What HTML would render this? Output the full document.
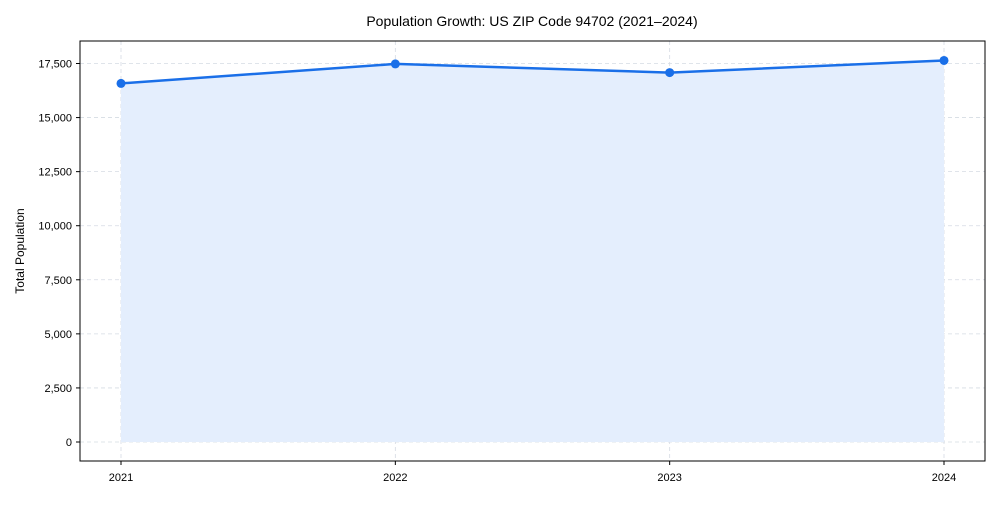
<!DOCTYPE html>
<html><head><meta charset="utf-8"><style>
body{margin:0;background:#fff;font-family:"Liberation Sans",Arial,sans-serif;}
svg text{font-family:"Liberation Sans",Arial,sans-serif;fill:#000}
</style></head><body>
<svg id="chart" width="1000" height="500">
<text x="532" y="26" font-size="14" text-anchor="middle">Population Growth: US ZIP Code 94702 (2021–2024)</text>
<g id="grid"></g>
<path id="area" fill="#e4eefd" stroke="none"></path>
<path id="line" fill="none" stroke="#1a6fe8" stroke-width="2.5"></path>
<g id="pts"></g>
<rect x="80" y="41" width="905" height="420" fill="none" stroke="#000" stroke-width="1"/>
<g id="axes"></g>
<text transform="translate(24,251) rotate(-90)" font-size="12" text-anchor="middle">Total Population</text>
</svg>
<script>
const years=["2021","2022","2023","2024"];
const population=[16580,17480,17080,17640];
const yTicks=[0,2500,5000,7500,10000,12500,15000,17500];
const ns="http://www.w3.org/2000/svg";
const x0=121,x1=944,yb=442,yt=63.5;
function xs(i){return x0+(x1-x0)*i/(years.length-1);}
function ys(v){return yb-(yb-yt)*v/17500;}
const grid=document.getElementById('grid'),axes=document.getElementById('axes'),pts=document.getElementById('pts');
function mk(tag,a,parent){const e=document.createElementNS(ns,tag);for(const k in a)e.setAttribute(k,a[k]);parent.appendChild(e);return e;}
yTicks.forEach(v=>{const y=ys(v);
 const g=mk('line',{x1:80,x2:985,y1:y,y2:y,stroke:'#d5dbe3','stroke-dasharray':'4,3','stroke-width':0.8},grid);
 
 
 const t=mk('line',{x1:76,x2:80,y1:y,y2:y,stroke:'#000'},axes);
 
 
 const l=mk('text',{x:72,y:y+4,'font-size':11,'text-anchor':'end'},axes);l.textContent=v.toLocaleString('en-US');
 
 
});
years.forEach((yr,i)=>{const x=xs(i);
 const g=mk('line',{x1:x,x2:x,y1:41,y2:461,stroke:'#d5dbe3','stroke-dasharray':'4,3','stroke-width':0.8},grid);
 
 
 const t=mk('line',{x1:x,x2:x,y1:461,y2:465,stroke:'#000'},axes);
 
 
 const l=mk('text',{x:x,y:481,'font-size':11,'text-anchor':'middle'},axes);l.textContent=yr;
 
 
});
let d='';population.forEach((v,i)=>{d+=(i?'L':'M')+xs(i)+','+ys(v);});
document.getElementById('line').setAttribute('d',d);
document.getElementById('area').setAttribute('d',d+'L'+xs(years.length-1)+','+ys(0)+'L'+xs(0)+','+ys(0)+'Z');
population.forEach((v,i)=>{const c=mk('circle',{cx:xs(i),cy:ys(v),r:4.5,fill:'#1a6fe8'},pts);
 
 
});
</script>
</body></html>
